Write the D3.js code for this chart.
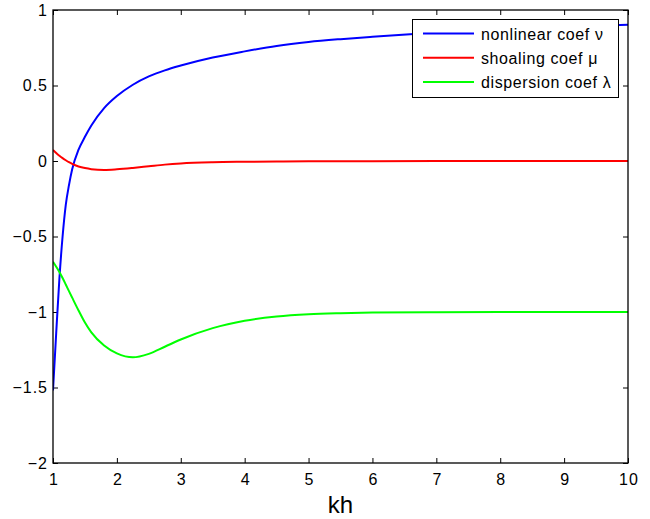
<!DOCTYPE html>
<html>
<head>
<meta charset="utf-8">
<script src="https://cdn.jsdelivr.net/npm/d3@7"></script>
<style>
  body { margin: 0; background: #fff; }
  svg { font-family: "Liberation Sans", Arial, sans-serif; }
</style>
</head>
<body>
<svg width="650" height="519"></svg>
<script>
// kh values (x) shared by the three curves
var kh = [1.0, 1.05, 1.1, 1.15, 1.2, 1.25, 1.3, 1.4, 1.5, 1.6, 1.8, 2.0, 2.25, 2.5, 2.75,
          3.0, 3.5, 4.0, 4.5, 5.0, 5.5, 6.0, 7.0, 8.0, 9.0, 10.0];

var nonlinear = [-1.52, -1.14, -0.78, -0.50, -0.29, -0.16, -0.055, 0.075, 0.16, 0.235, 0.35, 0.43, 0.505,
                 0.56, 0.60, 0.632, 0.685, 0.726, 0.762, 0.788, 0.807, 0.823, 0.851, 0.873, 0.889, 0.903];
var shoaling = [0.073, 0.053, 0.035, 0.019, 0.005, -0.008, -0.019, -0.036, -0.047, -0.054, -0.059, -0.055,
                -0.046, -0.035, -0.024, -0.016, -0.008, -0.005, -0.003, -0.002, -0.001, -0.001, 0, 0, 0, 0];
var dispersion = [-0.667, -0.70, -0.735, -0.775, -0.818, -0.862, -0.905, -0.99, -1.07, -1.135, -1.222, -1.274,
                  -1.30, -1.277, -1.23, -1.182, -1.107, -1.058, -1.03, -1.015, -1.008, -1.004, -1.001, -1.0, -1.0, -1.0];

var xTicks = [1, 2, 3, 4, 5, 6, 7, 8, 9, 10];
var yTicks = [-2, -1.5, -1, -0.5, 0, 0.5, 1];

var series = [
  { name: "nonlinear coef \u03bd", color: "#0000ff", vals: nonlinear },
  { name: "shoaling coef \u03bc", color: "#ff0000", vals: shoaling },
  { name: "dispersion coef \u03bb", color: "#00ff00", vals: dispersion }
];

// plot box (window.top is reserved, so own names here)
var pLeft = 53, pRight = 628, pTop = 10, pBottom = 463;

var svg = d3.select("svg");

var x = d3.scaleLinear().domain([1, 10]).range([pLeft, pRight]);
var y = d3.scaleLinear().domain([-2, 1]).range([pBottom, pTop]);

svg.append("defs").append("clipPath").attr("id", "clip")
  .append("rect")
    .attr("x", pLeft).attr("y", pTop)
    .attr("width", pRight - pLeft).attr("height", pBottom - pTop);

function fmt(d) { return String(d).replace("-", "\u2212"); }

// axes with inward ticks (matlab style)
var axB = svg.append("g").attr("transform", "translate(0," + pBottom + ")")
  .call(d3.axisBottom(x).tickValues(xTicks).tickSizeInner(-5).tickSizeOuter(0).tickPadding(11).tickFormat(fmt));
var axT = svg.append("g").attr("transform", "translate(0," + pTop + ")")
  .call(d3.axisTop(x).tickValues(xTicks).tickSizeInner(-5).tickSizeOuter(0).tickFormat(""));
var axL = svg.append("g").attr("transform", "translate(" + pLeft + ",0)")
  .call(d3.axisLeft(y).tickValues(yTicks).tickSizeInner(-5).tickSizeOuter(0).tickPadding(5).tickFormat(fmt));
var axR = svg.append("g").attr("transform", "translate(" + pRight + ",0)")
  .call(d3.axisRight(y).tickValues(yTicks).tickSizeInner(-5).tickSizeOuter(0).tickFormat(""));

[axB, axT, axL, axR].forEach(function(g) {
  g.select(".domain").remove();
  g.selectAll(".tick line").attr("stroke", "#000");
  g.selectAll("text").attr("fill", "#000").style("font-size", "16px")
    .style("letter-spacing", "1px")
    .style("font-family", "'Liberation Sans', Arial, sans-serif");
});
axB.selectAll("text").attr("dx", "0.5px");

var line = d3.line()
  .x(function(d, i) { return x(kh[i]); })
  .y(function(d) { return y(d); })
  .curve(d3.curveMonotoneX);

svg.append("g").attr("clip-path", "url(#clip)")
  .selectAll("path")
  .data(series)
  .enter()
  .append("path")
    .attr("d", function(d) { return line(d.vals); })
    .attr("fill", "none")
    .attr("stroke", function(d) { return d.color; })
    .attr("stroke-width", 2);

// box
svg.append("rect")
  .attr("x", pLeft).attr("y", pTop)
  .attr("width", pRight - pLeft).attr("height", pBottom - pTop)
  .attr("fill", "none").attr("stroke", "#000").attr("stroke-width", 1.3);

// x label
svg.append("text")
  .attr("x", (pLeft + pRight) / 2).attr("y", 513)
  .attr("text-anchor", "middle")
  .style("font-size", "24px")
  .text("kh");

// legend
var lg = svg.append("g");
lg.append("rect")
  .attr("x", 412.5).attr("y", 19.5).attr("width", 206).attr("height", 78)
  .attr("fill", "#fff").attr("stroke", "#000").attr("stroke-width", 1);

var item = lg.selectAll(".item")
  .data(series)
  .enter()
  .append("g")
    .attr("transform", function(d, i) { return "translate(0," + (33.5 + i * 24.2) + ")"; });

item.append("line")
  .attr("x1", 423).attr("x2", 474)
  .attr("stroke", function(d) { return d.color; })
  .attr("stroke-width", 2);

item.append("text")
  .attr("x", 481).attr("y", 6)
  .style("font-size", "16px")
  .style("letter-spacing", "0.6px")
  .text(function(d) { return d.name; });
</script>
</body>
</html>
